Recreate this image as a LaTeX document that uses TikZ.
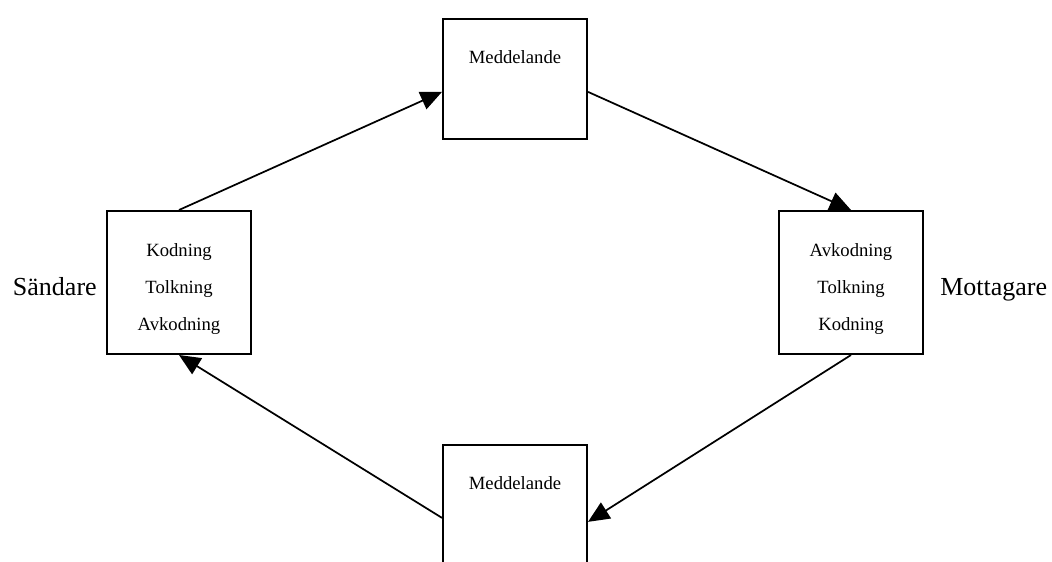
\documentclass[tikz,border=0pt]{standalone}
\usepackage{fontspec}
\setmainfont{Liberation Serif}
\usetikzlibrary{arrows.meta}
\tikzset{
  box/.style={draw,line width=1.5pt,minimum width=108pt,inner sep=0pt},
  arr/.style={line width=1.3pt,-{Triangle[length=16pt,width=14pt]}},
  boxtext/.style={anchor=base,font=\fontsize{14}{16}\selectfont},
  side/.style={inner sep=0pt,font=\fontsize{19.5}{22}\selectfont}
}
\begin{document}
\begin{tikzpicture}[x=0.75pt,y=-0.75pt]
\clip(0,0)rectangle(1052,561);
% rutorna
\node[box,minimum height=90pt](msgtop)at(515,79){};
\node[box,minimum height=90pt](msgbot)at(515,505){};
\node[box,minimum height=107.25pt](sender)at(179,282.5){};
\node[box,minimum height=107.25pt](receiver)at(851,282.5){};
\node[boxtext](mt)at(515,63){Meddelande};
\node[boxtext](mb)at(515,489){Meddelande};
\foreach \t [count=\i] in {Kodning,Tolkning,Avkodning}{\node[boxtext](s\i)at(179,219+37*\i){\t};}
\foreach \t [count=\i] in {Avkodning,Tolkning,Kodning}{\node[boxtext](r\i)at(851,219+37*\i){\t};}
\node[side,anchor=base east](snd)at(97,295){Sändare};
\node[side,anchor=base west](rcv)at(940,295){Mottagare};
% pilarna
\draw[arr](sender.north)--(msgtop.190);
\draw[arr](msgtop.-10)--(receiver.north);
\draw[arr](receiver.south)--(msgbot.-13);
\draw[arr](msgbot.190)--(sender.south);
\end{tikzpicture}
\end{document}
